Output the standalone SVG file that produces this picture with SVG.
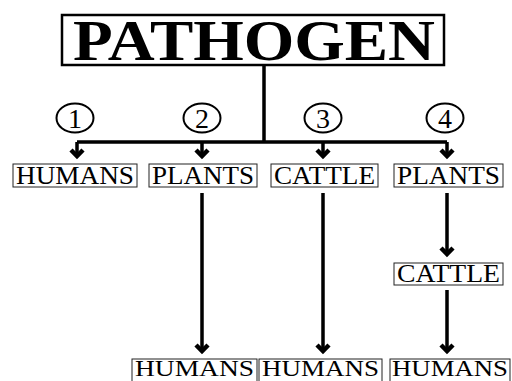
<svg xmlns="http://www.w3.org/2000/svg" width="512" height="381" viewBox="0 0 512 381">
<style>
.box{fill:#fff;stroke:#222;stroke-width:1}
.lbl{font-family:"Liberation Serif","Times New Roman",serif;font-size:25px;fill:#000;text-anchor:middle}
.lb2{font-family:"Liberation Serif","Times New Roman",serif;font-size:24px;fill:#000;text-anchor:middle}
.num{font-family:"Liberation Serif","Times New Roman",serif;font-size:28px;fill:#000;text-anchor:middle}
.ln{fill:none;stroke:#000;stroke-width:3.5}
.ah{fill:none;stroke:#000;stroke-width:4.5;stroke-linejoin:miter}
.circ{fill:#fff;stroke:#000;stroke-width:2}
</style>
<rect width="512" height="381" fill="#fff"/>
<g id="connectors">
<path class="ln" d="M264 65V142M77 142H447"/>
<path class="ln" d="M77 142V155M202 142V155M323 142V155M447 142V155"/>
<path class="ah" d="M71 150L77 156L83 150M196 150L202 156L208 150M317 150L323 156L329 150M441 150L447 156L453 150"/>
<path class="ln" d="M202 193V350M323 193V350M447 193V253M447 290V350"/>
<path class="ah" d="M196 345L202 351L208 345M317 345L323 351L329 345M441 248L447 254L453 248M441 345L447 351L453 345"/>
</g>
<g id="pathogen">
<rect x="62" y="15" width="382" height="50" fill="#fff" stroke="#000" stroke-width="2.5"/>
<text x="254" y="59.5" font-family="'Liberation Serif','Times New Roman',serif" font-weight="bold" font-size="56" text-anchor="middle" textLength="362" lengthAdjust="spacingAndGlyphs">PATHOGEN</text>
</g>
<g id="n1"><ellipse class="circ" cx="75" cy="118" rx="18.5" ry="14.5"/><text class="num" x="75" y="128">1</text></g>
<g id="n2"><ellipse class="circ" cx="202" cy="118" rx="18.5" ry="14.5"/><text class="num" x="202" y="128">2</text></g>
<g id="n3"><ellipse class="circ" cx="323" cy="118" rx="18.5" ry="14.5"/><text class="num" x="323" y="128">3</text></g>
<g id="n4"><ellipse class="circ" cx="445" cy="118" rx="18.5" ry="14.5"/><text class="num" x="445" y="128">4</text></g>
<g id="humans1"><rect class="box" x="13" y="164" width="124" height="23"/><text class="lbl" x="75" y="184" textLength="118" lengthAdjust="spacingAndGlyphs">HUMANS</text></g>
<g id="plants1"><rect class="box" x="149" y="164" width="108" height="23"/><text class="lbl" x="203" y="184" textLength="102" lengthAdjust="spacingAndGlyphs">PLANTS</text></g>
<g id="cattle1"><rect class="box" x="271" y="164" width="107" height="23"/><text class="lbl" x="324.5" y="184" textLength="101" lengthAdjust="spacingAndGlyphs">CATTLE</text></g>
<g id="plants2"><rect class="box" x="394" y="164" width="109" height="23"/><text class="lbl" x="448.5" y="184" textLength="103" lengthAdjust="spacingAndGlyphs">PLANTS</text></g>
<g id="cattle2"><rect class="box" x="394" y="263" width="109" height="22"/><text class="lbl" x="448.5" y="282" textLength="103" lengthAdjust="spacingAndGlyphs">CATTLE</text></g>
<g id="humans2"><rect class="box" x="132" y="359" width="125" height="24"/><text class="lb2" x="194.5" y="376" textLength="119" lengthAdjust="spacingAndGlyphs">HUMANS</text></g>
<g id="humans3"><rect class="box" x="259" y="359" width="123" height="24"/><text class="lb2" x="320.5" y="376" textLength="117" lengthAdjust="spacingAndGlyphs">HUMANS</text></g>
<g id="humans4"><rect class="box" x="390" y="359" width="120" height="24"/><text class="lb2" x="450" y="376" textLength="116" lengthAdjust="spacingAndGlyphs">HUMANS</text></g>
</svg>
